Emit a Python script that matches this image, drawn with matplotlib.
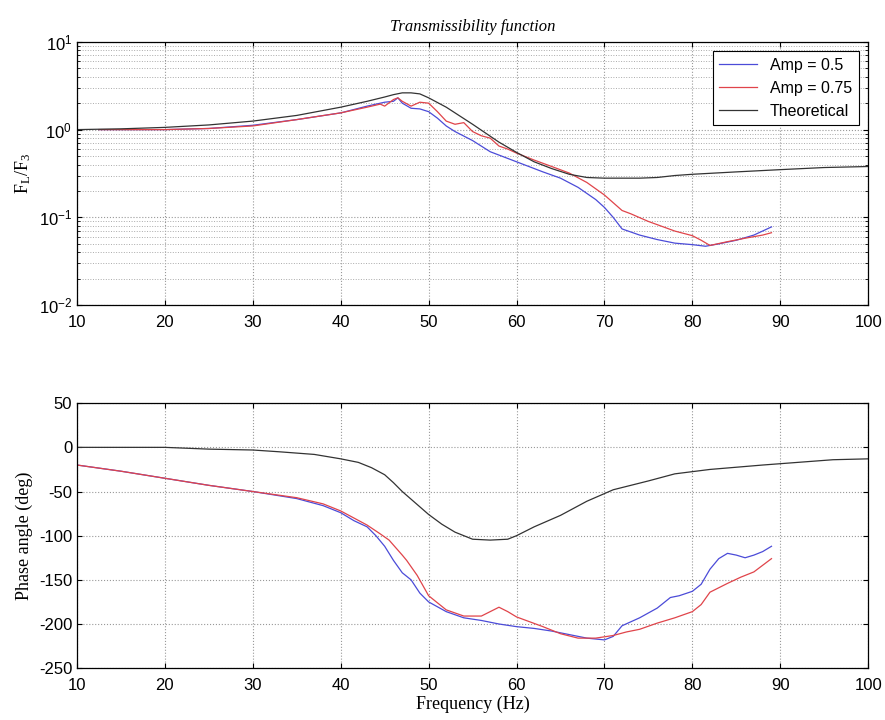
import matplotlib
matplotlib.use("Agg")
import matplotlib.pyplot as plt
from matplotlib.ticker import FixedLocator, NullFormatter
import numpy as np

plt.rcParams["font.family"] = "Liberation Sans"
plt.rcParams["font.size"] = 11
plt.rcParams["axes.unicode_minus"] = False

BLUE = "#4b4bd8"
RED = "#e0444a"
BLACK = "#333333"
SERIF = "Liberation Serif"

# magnitude, theoretical
f_th_mag = [10, 15, 20, 25, 30, 35, 40, 43, 45, 46, 47, 48, 49, 50, 52, 55, 58, 60,
            62, 64, 66, 68, 70, 72, 74, 76, 78, 80, 85, 90, 95, 100]
th_mag = [1.0, 1.02, 1.06, 1.13, 1.25, 1.45, 1.8, 2.1, 2.35, 2.5, 2.62, 2.62, 2.55, 2.3,
          1.8, 1.15, 0.72, 0.55, 0.43, 0.36, 0.31, 0.285, 0.28, 0.28, 0.28, 0.285, 0.30,
          0.31, 0.33, 0.35, 0.37, 0.38]

# magnitude, Amp = 0.5
f_a05_mag = [12.5, 16, 20, 25, 30, 35, 40, 43, 45, 46, 46.5, 47, 48, 49, 50, 51, 52, 53,
             55, 57, 60, 63, 65, 67, 69, 70, 71, 72, 74, 76, 78, 80, 81.5, 83, 85, 87, 89]
a05_mag = [1.0, 1.0, 1.0, 1.03, 1.12, 1.3, 1.55, 1.85, 2.05, 2.1, 2.3, 2.0, 1.75, 1.72,
           1.6, 1.35, 1.1, 0.95, 0.75, 0.56, 0.43, 0.33, 0.28, 0.22, 0.16, 0.13, 0.1,
           0.074, 0.063, 0.056, 0.051, 0.049, 0.047, 0.05, 0.055, 0.063, 0.078]

# magnitude, Amp = 0.75
f_a075_mag = [12.5, 16, 20, 25, 30, 35, 40, 43, 44.5, 45, 46, 46.5, 47, 48, 49, 50, 51,
              52, 53, 54, 55, 56, 57, 58, 59, 60, 62, 64, 66, 68, 70, 72, 73, 75, 78, 80,
              81, 82, 84, 86, 88, 89]
a075_mag = [1.0, 1.0, 1.0, 1.03, 1.1, 1.3, 1.55, 1.8, 1.95, 1.85, 2.2, 2.3, 2.1, 1.85,
            2.05, 2.0, 1.6, 1.25, 1.15, 1.2, 0.95, 0.85, 0.8, 0.65, 0.6, 0.54, 0.45, 0.38,
            0.32, 0.25, 0.18, 0.12, 0.11, 0.09, 0.07, 0.062, 0.055, 0.048, 0.053, 0.058,
            0.063, 0.067]

# phase, theoretical
f_th_ph = [10, 20, 25, 30, 33, 37, 40, 42, 43.5, 45, 46, 47, 48.5, 50, 51.5, 53, 55, 57,
           59, 60, 62, 65, 68, 71, 75, 78, 82, 88, 92, 96, 100]
th_ph = [0, 0, -2, -3, -5, -8, -13, -17, -23, -31, -40, -50, -63, -76, -87, -96, -104,
         -105, -104, -100, -90, -77, -61, -48, -38, -30, -25, -20, -17, -14, -13]

# phase, Amp = 0.5
f_a05_ph = [10, 15, 20, 25, 30, 35, 38, 40, 41.5, 43, 44, 45, 46, 47, 48, 49, 50, 52,
            54, 56, 58, 60, 62, 64, 66, 68, 70, 71, 72, 74, 76, 77.5, 78.5, 80, 81, 82,
            83, 84, 85, 86, 87, 88, 89]
a05_ph = [-20, -27, -35, -43, -50, -58, -66, -74, -83, -90, -100, -112, -128, -142, -150,
          -165, -175, -186, -193, -196, -200, -203, -205, -208, -212, -216, -218, -214,
          -202, -193, -182, -170, -168, -163, -155, -138, -126, -120, -122, -125, -122,
          -118, -112]

# phase, Amp = 0.75
f_a075_ph = [10, 15, 20, 25, 30, 35, 38, 40, 41.5, 43, 44.5, 45.5, 47, 47.5, 48.7, 50,
             51, 52, 54, 56, 57, 58, 59, 60, 63, 65, 67, 69, 71, 72.5, 74, 76, 78, 80,
             81, 82, 84, 85.5, 87, 89]
a075_ph = [-20, -27, -35, -43, -50, -57, -64, -72, -80, -88, -98, -105, -122, -128, -145,
           -168, -176, -184, -191, -191, -186, -181, -186, -192, -203, -211, -216, -216,
           -213, -209, -206, -199, -193, -186, -178, -164, -154, -147, -141, -126]

fig = plt.figure(figsize=(8.85, 7.2), dpi=100)
ax1 = fig.add_axes([0.087, 0.576, 0.894, 0.366])
ax2 = fig.add_axes([0.087, 0.072, 0.894, 0.368])

ax1.semilogy(f_a05_mag, a05_mag, color=BLUE, lw=0.9, label="Amp = 0.5")
ax1.semilogy(f_a075_mag, a075_mag, color=RED, lw=0.9, label="Amp = 0.75")
ax1.semilogy(f_th_mag, th_mag, color=BLACK, lw=0.9, label="Theoretical")
ax1.set_xlim(10, 100)
ax1.set_ylim(1e-2, 1e1)
ax1.set_xticks(np.arange(10, 101, 10))
ax1.yaxis.set_major_locator(FixedLocator([1e-2, 1e-1, 1e0, 1e1]))
ax1.set_yticklabels([r"$\mathregular{10^{-2}}$", r"$\mathregular{10^{-1}}$",
                     r"$\mathregular{10^{0}}$", r"$\mathregular{10^{1}}$"])
ax1.yaxis.set_minor_formatter(NullFormatter())
ax1.grid(True, which="major", ls=":", color="#999999", lw=0.8)
ax1.grid(True, which="minor", axis="y", ls=":", color="#aaaaaa", lw=0.7)
ax1.set_ylabel(r"$\mathregular{F_L/F_3}$", family=SERIF, fontsize=13)
ax1.set_title("Transmissibility function", family=SERIF, style="italic",
              fontsize=12, pad=8)
leg = ax1.legend(loc="upper right", fancybox=False, edgecolor="black",
                 framealpha=1, fontsize=11.5, handlelength=2.4, borderaxespad=0.6)
leg.get_frame().set_linewidth(0.8)

ax2.plot(f_a05_ph, a05_ph, color=BLUE, lw=0.9)
ax2.plot(f_a075_ph, a075_ph, color=RED, lw=0.9)
ax2.plot(f_th_ph, th_ph, color=BLACK, lw=0.9)
ax2.set_xlim(10, 100)
ax2.set_ylim(-250, 50)
ax2.set_xticks(np.arange(10, 101, 10))
ax2.set_yticks(np.arange(-250, 51, 50))
ax2.grid(True, ls=":", color="#999999", lw=0.8)
ax2.set_ylabel("Phase angle (deg)", family=SERIF, fontsize=13)
ax2.set_xlabel("Frequency (Hz)", family=SERIF, fontsize=13, labelpad=2)

for ax in (ax1, ax2):
    ax.tick_params(which="both", direction="in", top=True, right=True, labelsize=12)
    ax.tick_params(axis="x", pad=7)
    for s in ax.spines.values():
        s.set_linewidth(0.9)

fig.savefig("out.png", dpi=100)
